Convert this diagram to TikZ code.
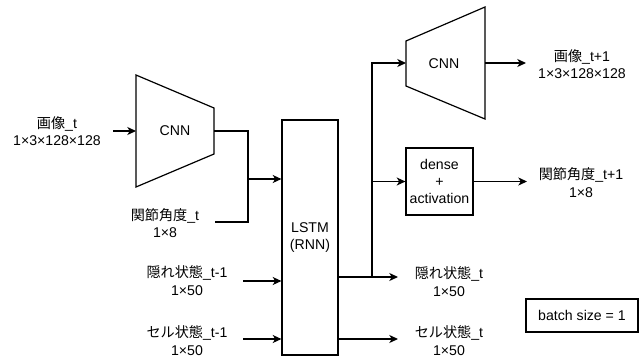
\documentclass[tikz,border=0pt]{standalone}
\usepackage{fontspec}
\setmainfont{Liberation Sans}
\newfontfamily\jp{Noto Sans CJK JP}
\usetikzlibrary{arrows.meta}
\begin{document}
\begin{tikzpicture}[x=0.75pt,y=-0.75pt,line width=0.9pt,line join=miter,
  lbl/.style={align=center,inner sep=0pt,font=\fontsize{10.6}{13.2}\selectfont},
  box/.style={draw,rectangle,inner sep=0pt,align=center,font=\fontsize{10.6}{13}\selectfont},
  arr/.style={-{Stealth[length=6.5pt,width=6pt,inset=1.8pt]}}]
\useasboundingbox (0,0) rectangle (644,358);

% encoder CNN (trapezoid)
\coordinate (e1) at (136,75);  \coordinate (e2) at (214,108);
\coordinate (e3) at (214,154); \coordinate (e4) at (136,187);
\draw (e1) -- (e2) -- (e3) -- (e4) -- cycle;
\node[lbl] (cnn1) at (175,131) {CNN};
\coordinate (cnn1W) at (136,131);
\coordinate (cnn1E) at (214,131);

% decoder CNN (trapezoid)
\coordinate (d1) at (406,41);  \coordinate (d2) at (485,7);
\coordinate (d3) at (485,119); \coordinate (d4) at (406,86);
\draw (d1) -- (d2) -- (d3) -- (d4) -- cycle;
\node[lbl] (cnn2) at (444,64) {CNN};
\coordinate (cnn2W) at (406,63);
\coordinate (cnn2E) at (485,63);

% LSTM, dense head, batch note
\node[box,minimum width=42pt,minimum height=176.25pt] (lstm) at (310,237.5) {LSTM\\(RNN)};
\node[box,minimum width=50.25pt,minimum height=50.25pt] (dense) at (439.5,181.5) {dense\\+\\activation};
\node[box,minimum width=84pt,minimum height=24.75pt] (batch) at (582,315.5) {batch size = 1};

% inputs
\node[lbl] (imgIn) at (57,131) {{\jp 画像}\_t\\1×3×128×128};
\node[lbl] (angIn) at (165,223) {{\jp 関節角度}\_t\\1×8};
\node[lbl] (hIn) at (187,280.5) {{\jp 隠れ状態}\_t-1\\1×50};
\node[lbl] (cIn) at (187,340.5) {{\jp セル状態}\_t-1\\1×50};

% outputs
\node[lbl] (imgOut) at (582,64) {{\jp 画像}\_t+1\\1×3×128×128};
\node[lbl] (angOut) at (581,182.5) {{\jp 関節角度}\_t+1\\1×8};
\node[lbl] (hOut) at (449,281.5) {{\jp 隠れ状態}\_t\\1×50};
\node[lbl] (cOut) at (449,340.5) {{\jp セル状態}\_t\\1×50};

% connector ends and junctions
\coordinate (pImg) at (113,131);
\coordinate (pAng) at (215,222);
\coordinate (merge) at (248,179);
\coordinate (pH) at (243,281);
\coordinate (pC) at (243,339);
\coordinate (lstmH) at (338,277);
\coordinate (lstmC) at (338,339);
\coordinate (split) at (372,277);
\coordinate (pHout) at (398,277);
\coordinate (pCout) at (398,339);
\coordinate (pImgOut) at (526,63);
\coordinate (pAngOut) at (527,181.5);

% connectors
\draw[arr] (pImg) -- (cnn1W);
\draw (cnn1E) -| (merge);
\draw (pAng) -| (merge);
\draw[arr] (merge) -- (merge -| lstm.west);
\draw[arr] (pH) -- (pH -| lstm.west);
\draw[arr] (pC) -- (pC -| lstm.west);
\draw[arr] (lstmH) -- (pHout);
\draw[arr] (split) |- (cnn2W);
\draw[arr] (split |- dense.west) -- (dense.west);
\draw[arr] (lstmC) -- (pCout);
\draw[arr] (cnn2E) -- (pImgOut);
\draw[arr] (dense.east) -- (pAngOut);
\end{tikzpicture}
\end{document}
